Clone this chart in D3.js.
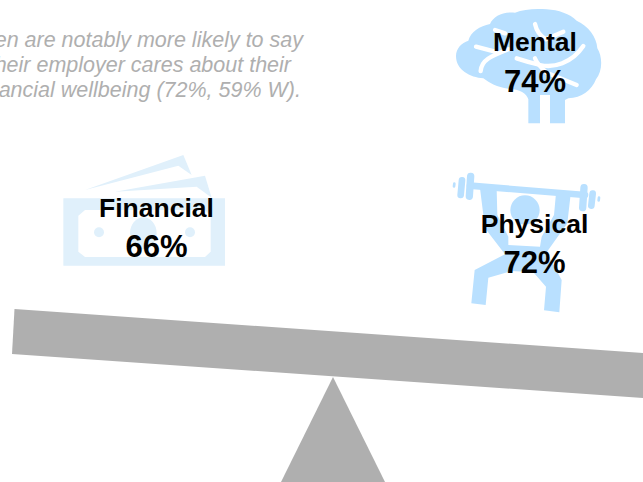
<!DOCTYPE html>
<html>
<head>
<meta charset="utf-8">
<script src="https://cdnjs.cloudflare.com/ajax/libs/d3/7.8.5/d3.min.js"></script>
<style>
html,body{margin:0;padding:0;background:#fff;overflow:hidden}
svg{display:block}
text{font-family:"Liberation Sans",Arial,sans-serif}
</style>
</head>
<body>
<div id="chart"></div>
<script>
// Wellbeing dimensions and the share of respondents for each
const categories = ["Mental", "Financial", "Physical"];
const shares = [74, 66, 72];
const noteLines = [
  "Men are notably more likely to say",
  "their employer cares about their",
  "financial wellbeing (72%, 59% W)."
];

const W = 643, H = 482;
const GREY = "#afafaf", BLUE = "#b9e0ff", PALE = "#e0f0fb";

const svg = d3.select("#chart").append("svg").attr("width", W).attr("height", H);
svg.append("rect").attr("width", W).attr("height", H).attr("fill", "#fff");

const line = d3.line();

// Seesaw: tilted beam and the fulcrum under it
svg.append("path").attr("fill", GREY)
  .attr("d", line([[14.5, 309], [12, 354], [643, 398], [643, 353]]) + "Z");
svg.append("path").attr("fill", GREY)
  .attr("d", line([[333, 377], [281, 482], [385, 482]]) + "Z");

// Icons are authored at 3x and scaled down into place
const icon = (x, y) => svg.append("g").attr("transform", `translate(${x},${y}) scale(${1 / 3})`);

function strokes(g, color, width, paths) {
  paths.forEach(p => g.append("path").attr("d", p).attr("fill", "none")
    .attr("stroke", color).attr("stroke-width", width)
    .attr("stroke-linecap", "round").attr("stroke-linejoin", "round"));
}

// Brain
const brain = icon(440, 0);
brain.append("path").attr("fill", BLUE).attr("d",
  "M265,370 L265,298 C260,280 240,268 205,266 C170,262 150,250 130,235 C90,232 48,210 48,168 " +
  "C48,145 65,128 85,122 C92,95 120,78 150,72 C160,48 190,34 225,38 C250,28 285,25 320,28 " +
  "C355,30 390,42 410,62 C445,78 470,110 472,145 C488,170 488,215 468,238 C455,270 425,295 385,295 " +
  "L375,300 L375,370 L330,370 L330,285 L300,285 L300,370 Z");
strokes(brain, "#fff", 13, [
  "M108,140 L165,155",
  "M122,213 C125,180 150,170 205,148",
  "M165,90 L195,100",
  "M285,72 C290,95 300,108 318,118 L370,95",
  "M230,175 C260,185 280,190 300,195 C340,205 395,190 430,138",
  "M285,175 C290,190 300,200 320,218 L410,255"
]);

// Banknotes
const bills = icon(50, 145);
bills.append("path").attr("fill", PALE)
  .attr("d", "M105,135 L400,30 L425,90 L385,62 Z");
bills.append("path").attr("fill", PALE)
  .attr("d", "M195,140 L465,92 L485,158 L440,125 Z");
bills.append("path").attr("fill", PALE).attr("fill-rule", "evenodd")
  .attr("d", "M40,160 H525 V362 H40 Z M105,195 H465 L482,212 V320 L465,336 H105 L85,320 V212 Z");
bills.append("ellipse").attr("cx", 280).attr("cy", 265).attr("rx", 40).attr("ry", 48).attr("fill", PALE);
bills.append("circle").attr("cx", 147).attr("cy", 262).attr("r", 15).attr("fill", PALE);
bills.append("circle").attr("cx", 420).attr("cy", 262).attr("r", 15).attr("fill", PALE);

// Weightlifter
const lifter = icon(440, 165);
strokes(lifter, BLUE, 20, ["M90,62 L435,90"]);
strokes(lifter, BLUE, 22, ["M92,34 L88,94", "M432,68 L428,128"]);
strokes(lifter, BLUE, 20, ["M66,46 L62,90", "M458,86 L454,122"]);
strokes(lifter, BLUE, 8, ["M43,56 L42,64", "M477,98 L476,106"]);
lifter.append("circle").attr("cx", 255).attr("cy", 135).attr("r", 44).attr("fill", BLUE);
lifter.append("path").attr("fill", BLUE).attr("d",
  "M120,70 L170,72 L172,150 L205,215 L205,240 L300,245 L305,215 L342,150 L348,85 L392,88 L382,175 " +
  "L320,262 L365,345 L358,442 L312,436 L318,365 L280,322 L215,318 L145,338 L137,420 L94,415 L104,315 " +
  "L195,268 L135,190 Z");

// Labels: dimension name over its percentage
const labelPos = [[535, 51, 92], [156.5, 217, 257], [534.5, 233, 273]];
const labels = svg.selectAll("g.label").data(categories).join("g").attr("class", "label");
labels.append("text").attr("text-anchor", "middle").attr("font-weight", "bold").attr("font-size", 26.5)
  .attr("fill", "#000").attr("x", (d, i) => labelPos[i][0]).attr("y", (d, i) => labelPos[i][1]).text(d => d);
labels.append("text").attr("text-anchor", "middle").attr("font-weight", "bold").attr("font-size", 31)
  .attr("fill", "#000").attr("x", (d, i) => labelPos[i][0]).attr("y", (d, i) => labelPos[i][2])
  .text((d, i) => shares[i] + "%");

// Italic side note, running off the left edge
const noteEnds = [303, 291, 301];
svg.selectAll("text.note").data(noteLines).join("text").attr("class", "note")
  .attr("text-anchor", "end").attr("font-style", "italic").attr("font-size", 21.5)
  .attr("fill", GREY).attr("x", (d, i) => noteEnds[i]).attr("y", (d, i) => 47 + i * 25).text(d => d);
</script>
</body>
</html>
